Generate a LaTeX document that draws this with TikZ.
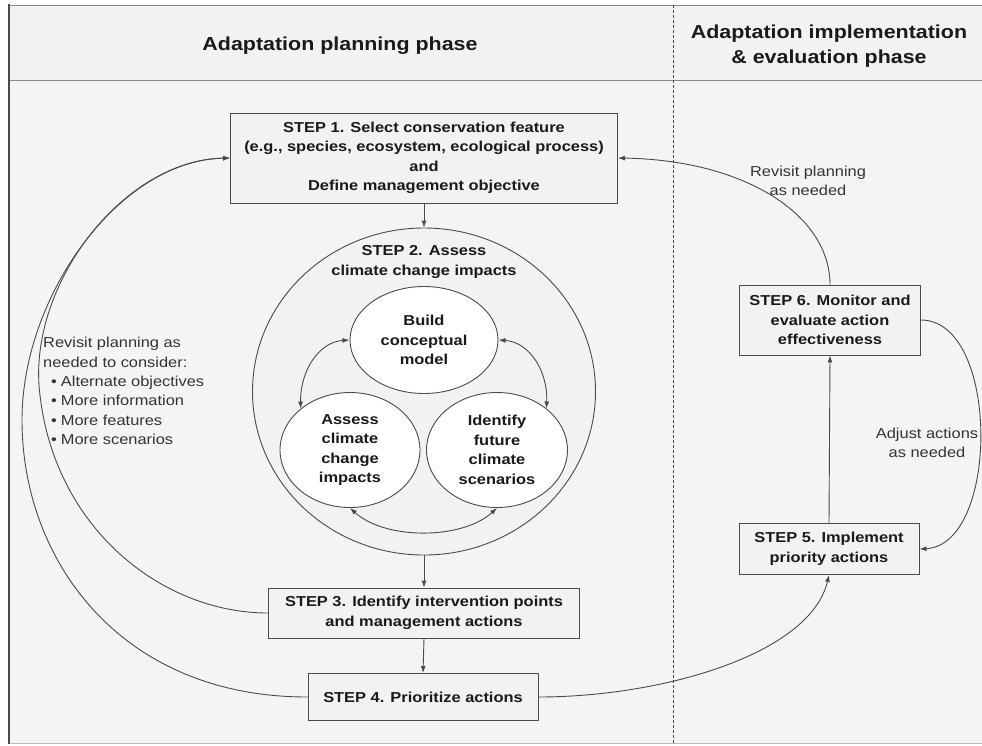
\documentclass[tikz,border=0pt]{standalone}
\usepackage{fontspec}
\setmainfont{Liberation Sans}[FakeStretch=1.14]
\usetikzlibrary{arrows.meta,shapes.geometric}
\definecolor{bg}{HTML}{F4F4F4}
\definecolor{boxfill}{HTML}{F2F2F2}
\definecolor{ln}{HTML}{4A4A4A}
\definecolor{txt}{HTML}{1A1A1A}
\definecolor{lbltxt}{HTML}{333333}
\definecolor{frame}{HTML}{8A8A8A}
\begin{document}
\begin{tikzpicture}[x=1pt,y=-1pt,
  boldtext/.style={font=\fontsize{14.4}{19.5}\selectfont\bfseries, text=txt, align=center},
  stepbox/.style={boldtext, draw=ln, fill=boxfill, line width=0.9pt, inner sep=0pt},
  ell/.style={boldtext, ellipse, draw=ln, fill=white, line width=0.9pt, inner sep=0pt},
  conn/.style={draw=ln, line width=0.9pt},
  arr/.style={conn, -{Latex[length=7pt,width=5pt]}},
  darr/.style={conn, {Latex[length=7pt,width=5pt]}-{Latex[length=7pt,width=5pt]}},
  lbl/.style={align=center, font=\fontsize{14.4}{18.5}\selectfont, text=lbltxt, inner sep=0pt},
  hdr/.style={align=center, font=\fontsize{18.8}{25}\selectfont\bfseries, text=txt}
]
\useasboundingbox (0,0) rectangle (982,745);
% background and frame
\fill[white] (0,0) rectangle (982,745);
\fill[bg] (9,80) rectangle (990,743);
\fill[boxfill] (9,5) rectangle (990,80);
\draw[frame, line width=1pt] (9,5) -- (990,5);
\draw[frame, line width=1pt] (9,80) -- (990,80);
\draw[frame!60, line width=1pt] (9,743) -- (990,743);
\draw[ln, line width=2pt] (9,4) -- (9,744);
\draw[ln, line width=0.8pt, dash pattern=on 3pt off 2pt] (673,5) -- (673,743);

% headers
\node[hdr] (h1) at (340,46) {Adaptation planning phase};
\node[hdr] (h2) at (829,46) {Adaptation implementation\\\& evaluation phase};

% steps
\node[stepbox, minimum width=387pt, minimum height=90pt] (s1) at (424,158)
  {STEP 1. Select conservation feature\\(e.g., species, ecosystem, ecological process)\\and\\Define management objective};
\node[ellipse, draw=ln, fill=boxfill, line width=0.9pt, minimum width=343pt, minimum height=327pt, inner sep=0pt] (s2) at (424,391.5) {};
\node[boldtext] (s2t) at (424,262) {STEP 2. Assess\\climate change impacts};
\node[ell, minimum width=148pt, minimum height=107pt] (b) at (424,340) {Build\\conceptual\\model};
\node[ell, minimum width=140pt, minimum height=115pt] (a) at (350,450) {Assess\\climate\\change\\impacts};
\node[ell, minimum width=141pt, minimum height=115pt] (i) at (497,450) {Identify\\future\\climate\\scenarios};
\node[stepbox, minimum width=311pt, minimum height=50pt] (s3) at (424,613) {STEP 3. Identify intervention points\\and management actions};
\node[stepbox, minimum width=230pt, minimum height=47pt] (s4) at (423,697) {STEP 4. Prioritize actions};
\node[stepbox, minimum width=181pt, minimum height=70pt] (s6) at (830,320) {STEP 6. Monitor and\\evaluate action\\effectiveness};
\node[stepbox, minimum width=180pt, minimum height=51pt] (s5) at (829,549) {STEP 5. Implement\\priority actions};

% labels
\node[lbl] (l6) at (808,181) {Revisit planning\\as needed};
\node[lbl] (l5) at (927,443) {Adjust actions\\as needed};
\node[lbl, align=left, anchor=west, font=\fontsize{14.4}{19.3}\selectfont] (lp) at (43,391)
  {Revisit planning as\\needed to consider:\\\hspace*{8pt}\textbullet\hspace{4pt}Alternate objectives\\\hspace*{8pt}\textbullet\hspace{4pt}More information\\\hspace*{8pt}\textbullet\hspace{4pt}More features\\\hspace*{8pt}\textbullet\hspace{4pt}More scenarios};

% connectors
\draw[arr] (s1.south) -- (s2.north);
\draw[arr] (s2.south) -- (s3.north);
\draw[arr] (s3.south) -- (s4.north);
\draw[arr] (s5.north) -- (s6.south);
\draw[arr] (s6.north) .. controls (830,215) and (745,160) .. (s1.east);
\draw[arr] (s6.east) .. controls (1000,320) and (1000,545) .. (s5.east);
\draw[arr] (s4.east) .. controls (660,697) and (810,655) .. (s5.south);
\draw[arr] (s3.west) .. controls (160,613) and (50,525) .. (39,385) .. controls (32,280) and (125,160) .. (s1.west);
\draw[arr] (s4.west) .. controls (120,697) and (22,560) .. (22,420) .. controls (22,295) and (120,160) .. (s1.west);

\draw[darr] (b.west) .. controls (318,342) and (300,372) .. (a.140);
\draw[darr] (b.east) .. controls (530,342) and (548,372) .. (i.40);
\draw[darr] (a.south) .. controls (385,540) and (462,540) .. (i.south);
\end{tikzpicture}
\end{document}
